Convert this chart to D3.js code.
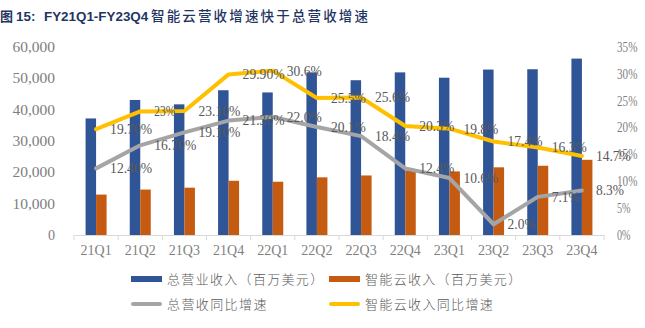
<!DOCTYPE html>
<html><head><meta charset="utf-8">
<script src="https://cdn.jsdelivr.net/npm/d3@7"></script>
<style>
body{margin:0;background:#fff;}
svg{display:block;}
</style></head>
<body>
<svg id="c" width="645" height="328"></svg>
<script>
const categories = ["21Q1","21Q2","21Q3","21Q4","22Q1","22Q2","22Q3","22Q4","23Q1","23Q2","23Q3","23Q4"];
const totalRevenue = [37200,43100,41700,46200,45500,51900,49400,51900,50200,52800,52900,56300];
const cloudRevenue = [12900,14500,15100,17300,17000,18400,19000,20600,20300,21600,22100,24000];
const totalGrowth = [12.4,16.7,19.1,21.3,22.0,20.1,18.4,12.4,10.6,2.0,7.1,8.3];
const cloudGrowth = [19.7,23.0,23.1,29.9,30.6,25.5,25.6,20.3,19.8,17.4,16.3,14.7];
const totalGrowthLabels = ["12.40%","16.70%","19.10%","21.30%","22.0%","20.1%","18.4%","12.4%","10.6%","2.0%","7.1%","8.3%"];
const cloudGrowthLabels = ["19.70%","23%","23.10%","29.90%","30.6%","25.5%","25.6%","20.3%","19.8%","17.4%","16.3%","14.7%"];
const leftTicks = [0,10000,20000,30000,40000,50000,60000];
const rightTicks = [0,5,10,15,20,25,30,35];
const seriesNames = ["总营业收入（百万美元）","智能云收入（百万美元）","总营收同比增速","智能云收入同比增速"];
const colors = ["#2f5597","#c55a11","#a5a5a5","#ffc000"];

const svg = d3.select("#c");
const serif = "'Liberation Serif','DejaVu Serif',serif";
const cjk = "'Noto Sans CJK SC',sans-serif";

// title
const title = svg.append("text").attr("x",0).attr("y",21)
  .attr("fill","#1f3563").attr("font-weight","bold");
title.append("tspan").attr("font-family",cjk).attr("font-size","13px").text("图");
title.append("tspan").attr("font-family","'Liberation Sans',Arial,sans-serif").attr("font-size","13.4px").attr("x",16).text("15:");
title.append("tspan").attr("font-family","'Liberation Sans',Arial,sans-serif").attr("font-size","13.4px").attr("x",44).text("FY21Q1-FY23Q4");
title.append("tspan").attr("font-family",cjk).attr("font-size","13.5px").attr("font-weight","500").attr("x",151)
  .attr("textLength",217).attr("lengthAdjust","spacing").text("智能云营收增速快于总营收增速");

const x0 = 74, x1 = 604, yBase = 235, yTop = 47;
const x = d3.scaleBand().domain(categories).range([x0,x1]).padding(0);
const yL = d3.scaleLinear().domain([0,60000]).range([yBase,yTop]);
const yR = d3.scaleLinear().domain([0,35]).range([yBase,yTop]);
const barW = 10.5;
const cx = c => x(c) + x.bandwidth()/2;

const fit = "spacingAndGlyphs";
// left axis labels
const fmt = d3.format(",");
svg.append("g").selectAll("text").data(leftTicks).join("text")
  .attr("x",55).attr("y",d=>yL(d)).attr("dy","0.35em").attr("text-anchor","end")
  .attr("font-family",serif).attr("font-size","14px").attr("fill","#7f7f7f")
  .attr("textLength",d=>fmt(d).length*7.1).attr("lengthAdjust",fit)
  .text(d=>fmt(d));
// right axis labels
svg.append("g").selectAll("text").data(rightTicks).join("text")
  .attr("x",617).attr("y",d=>yR(d)).attr("dy","0.35em").attr("text-anchor","start")
  .attr("font-family",serif).attr("font-size","14px").attr("fill","#7f7f7f")
  .attr("textLength",d=>(d+"%").length*6.8).attr("lengthAdjust",fit)
  .text(d=>d+"%");

// bars
svg.append("g").selectAll("rect").data(categories).join("rect")
  .attr("x",c=>cx(c)-barW).attr("width",barW)
  .attr("y",(c,i)=>yL(totalRevenue[i])).attr("height",(c,i)=>yBase-yL(totalRevenue[i]))
  .attr("fill",colors[0]);
svg.append("g").selectAll("rect").data(categories).join("rect")
  .attr("x",c=>cx(c)).attr("width",barW)
  .attr("y",(c,i)=>yL(cloudRevenue[i])).attr("height",(c,i)=>yBase-yL(cloudRevenue[i]))
  .attr("fill",colors[1]);

// x axis
const xa = svg.append("g").attr("transform",`translate(0,${yBase})`)
  .call(d3.axisBottom(x).tickSize(0).tickFormat(d=>d));
xa.select(".domain").attr("stroke","#d9d9d9").attr("stroke-width",1);
xa.selectAll("text").attr("font-family",serif).attr("font-size","14px").attr("fill","#7f7f7f").attr("dy","0").attr("y",20);
const bounds = categories.map(c=>x(c)).concat([x1]);
svg.append("g").selectAll("line").data(bounds).join("line")
  .attr("x1",d=>d).attr("x2",d=>d).attr("y1",yBase).attr("y2",yBase+5)
  .attr("stroke","#d9d9d9");

// lines
const line = d3.line().x((d,i)=>cx(categories[i])).y(d=>yR(d));
svg.append("path").datum(totalGrowth).attr("d",line).attr("fill","none")
  .attr("stroke",colors[2]).attr("stroke-width",4).attr("stroke-linejoin","round").attr("stroke-linecap","round");
svg.append("path").datum(cloudGrowth).attr("d",line).attr("fill","none")
  .attr("stroke",colors[3]).attr("stroke-width",4).attr("stroke-linejoin","round").attr("stroke-linecap","round");

// data labels
function labels(vals, labs){
  svg.append("g").selectAll("text").data(vals).join("text")
    .attr("x",(d,i)=>cx(categories[i])+14).attr("y",d=>yR(d)).attr("dy","0.35em")
    .attr("font-family",serif).attr("font-size","14px").attr("fill","#595959")
    .attr("textLength",(d,i)=>labs[i].length*7).attr("lengthAdjust",fit)
    .text((d,i)=>labs[i]);
}
labels(totalGrowth,totalGrowthLabels);
labels(cloudGrowth,cloudGrowthLabels);

// legend
const leg = [
  {x:131,y:279,type:"bar",c:colors[0],t:seriesNames[0]},
  {x:329,y:279,type:"bar",c:colors[1],t:seriesNames[1]},
  {x:131,y:304,type:"line",c:colors[2],t:seriesNames[2]},
  {x:329,y:304,type:"line",c:colors[3],t:seriesNames[3]},
];
const lg = svg.append("g").selectAll("g").data(leg).join("g");
lg.filter(d=>d.type==="bar").append("rect")
  .attr("x",d=>d.x).attr("y",d=>d.y-3).attr("width",31).attr("height",6).attr("fill",d=>d.c);
lg.filter(d=>d.type==="line").append("line")
  .attr("x1",d=>d.x+2).attr("x2",d=>d.x+29).attr("y1",d=>d.y).attr("y2",d=>d.y)
  .attr("stroke",d=>d.c).attr("stroke-width",4).attr("stroke-linecap","round");
lg.append("text").attr("x",d=>d.x+36).attr("y",d=>d.y).attr("dy","0.36em")
  .attr("font-family",cjk).attr("font-size","13px").attr("font-weight","300").attr("fill","#595959")
  .attr("textLength",d=>d.t.length*14.2).attr("lengthAdjust","spacing")
  .text(d=>d.t);
</script>
</body></html>
